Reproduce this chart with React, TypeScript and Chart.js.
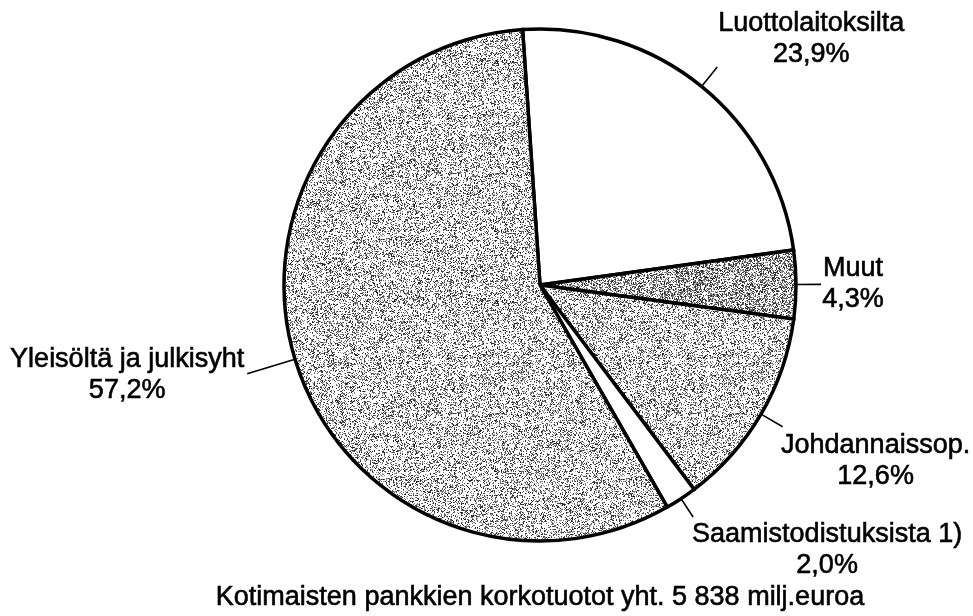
import React, { useEffect, useRef } from "react";
import { Chart, registerables } from "chart.js";

Chart.register(...registerables);

// ---- data ----
const categories = [
  "Luottolaitoksilta",
  "Muut",
  "Johdannaissop.",
  "Saamistodistuksista 1)",
  "Yleisöltä ja julkisyht",
];
const shares = [23.9, 4.3, 12.6, 2.0, 57.2];
const shareLabels = ["23,9%", "4,3%", "12,6%", "2,0%", "57,2%"];
const fillKinds = ["white", "dark", "light", "white", "light"];
const titleText = "Kotimaisten pankkien korkotuotot yht. 5 838 milj.euroa";

// ---- layout / style (not data) ----
const leaderLen = [25, 25, 25, 22, 50];
const textDx = [94, 32, 93, 134, -120];
const textDy = [-36, -8, 26, 25, -7];
const lineGap = 31;
const FONT = "27px 'Liberation Sans', Arial, Helvetica, sans-serif";

function hash(x: number, y: number, s: number): number {
  let h = (x * 374761393 + y * 668265263 + s * 982451653) | 0;
  h = (h ^ (h >>> 13)) | 0;
  h = Math.imul(h, 1274126177);
  h = h ^ (h >>> 16);
  return (h >>> 0) / 4294967296;
}

function makePattern(ctx: CanvasRenderingContext2D, density: number, seed: number) {
  const size = 240;
  const c = document.createElement("canvas");
  c.width = size;
  c.height = size;
  const pctx = c.getContext("2d")!;
  const img = pctx.createImageData(size, size);
  for (let y = 0; y < size; y++) {
    for (let x = 0; x < size; x++) {
      const i = (y * size + x) * 4;
      let v = 255;
      if (hash(x, y, seed) < density) {
        v = Math.floor(20 + hash(x, y, seed + 7) * 140);
      }
      img.data[i] = v;
      img.data[i + 1] = v;
      img.data[i + 2] = v;
      img.data[i + 3] = 255;
    }
  }
  pctx.putImageData(img, 0, 0);
  return ctx.createPattern(c, "repeat")!;
}

const labelPlugin = {
  id: "pieLabels",
  afterDatasetsDraw(chart: any) {
    const ctx: CanvasRenderingContext2D = chart.ctx;
    const meta = chart.getDatasetMeta(0);
    ctx.save();
    ctx.font = FONT;
    ctx.fillStyle = "#000";
    ctx.strokeStyle = "#000";
    ctx.textAlign = "center";
    ctx.textBaseline = "alphabetic";
    const drawText = (t: string, x: number, y: number) => {
      ctx.lineWidth = 0.6;
      ctx.fillText(t, x, y);
      ctx.strokeText(t, x, y);
    };
    meta.data.forEach((arc: any, i: number) => {
      const p = arc.getProps(["x", "y", "startAngle", "endAngle", "outerRadius"], true);
      const mid = (p.startAngle + p.endAngle) / 2;
      const sx = p.x + Math.cos(mid) * p.outerRadius;
      const sy = p.y + Math.sin(mid) * p.outerRadius;
      const ex = sx + Math.cos(mid) * leaderLen[i];
      const ey = sy + Math.sin(mid) * leaderLen[i];
      ctx.lineWidth = 1.6;
      ctx.beginPath();
      ctx.moveTo(sx, sy);
      ctx.lineTo(ex, ey);
      ctx.stroke();
      const tx = ex + textDx[i];
      const ty = ey + textDy[i];
      drawText(categories[i], tx, ty);
      drawText(shareLabels[i], tx, ty + lineGap);
    });
    // caption under the pie
    drawText(titleText, 540, 605);
    ctx.restore();
  },
};

export default function App() {
  const ref = useRef<HTMLCanvasElement | null>(null);

  useEffect(() => {
    const canvas = ref.current!;
    const ctx = canvas.getContext("2d")!;
    const light = makePattern(ctx, 0.33, 11);
    const dark = makePattern(ctx, 0.5, 23);
    const fills = fillKinds.map((k) => (k === "white" ? "#ffffff" : k === "dark" ? dark : light));

    const chart = new Chart(canvas, {
      type: "pie",
      data: {
        labels: categories,
        datasets: [
          {
            data: shares,
            backgroundColor: fills as any,
            borderColor: "#000",
            borderWidth: 3.5,
            borderJoinStyle: "miter",
            radius: 256,
          } as any,
        ],
      },
      options: {
        responsive: false,
        animation: false,
        devicePixelRatio: 1,
        rotation: -3.9,
        layout: { padding: { left: 270, right: 163, top: 15, bottom: 61 } },
        plugins: {
          legend: { display: false },
          tooltip: { enabled: false },
          title: { display: false },
        },
      } as any,
      plugins: [labelPlugin],
    });
    return () => chart.destroy();
  }, []);

  return (
    <div style={{ position: "absolute", left: 0, top: 0, width: 973, height: 616, background: "#fff" }}>
      <canvas ref={ref} width={973} height={616} style={{ width: 973, height: 616, display: "block" }} />
    </div>
  );
}
